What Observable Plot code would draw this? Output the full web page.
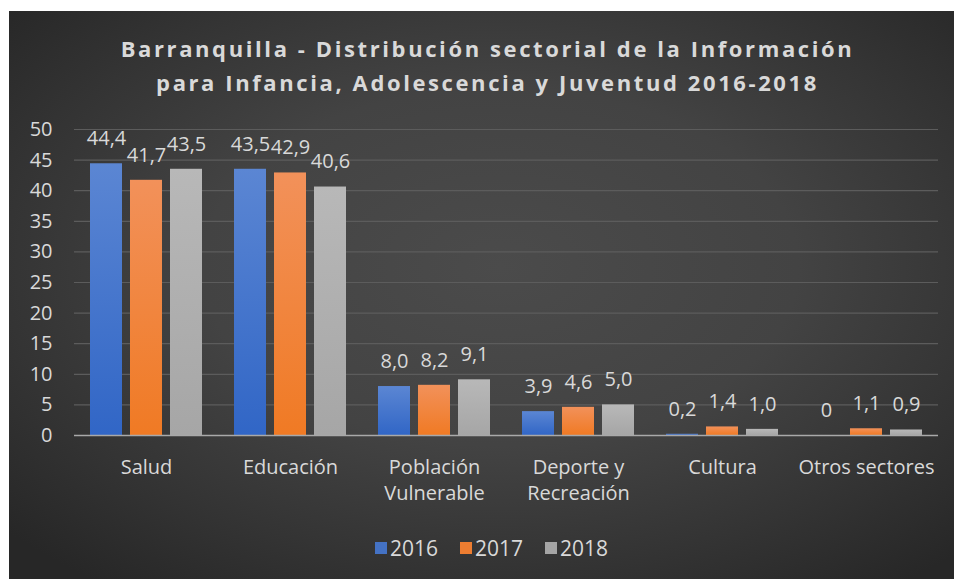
<!DOCTYPE html>
<html>
<head>
<meta charset="utf-8">
<script src="https://cdn.jsdelivr.net/npm/d3@7"></script>
<script src="https://cdn.jsdelivr.net/npm/@observablehq/plot@0.6"></script>
<style>
  html, body { margin: 0; padding: 0; background: #ffffff; }
  #panel {
    position: absolute; left: 9px; top: 11px; width: 945px; height: 568px;
    background: radial-gradient(ellipse 70% 70% at 52% 45%, #4b4b4b 0%, #434343 45%, #343434 75%, #272727 100%);
    overflow: hidden;
    font-family: "Open Sans", sans-serif;
  }
  #title {
    position: absolute; left: 0; top: 20px; width: 945px; box-sizing: border-box; padding-left: 12px;
    text-align: center; color: #d9d9d9; font-weight: bold; font-size: 22px; line-height: 34px;
    letter-spacing: 2.6px;
  }
  #chart { position: absolute; left: 0; top: 89px; }
  #legend {
    position: absolute; left: 0; top: 523px; width: 945px; box-sizing: border-box; padding-left: 20px;
    display: flex; justify-content: center; gap: 22px; color: #d9d9d9; font-size: 21px; line-height: 28px;
  }
  .item { display: flex; align-items: center; gap: 3px; }
  .sw { width: 12px; height: 12px; display: inline-block; }
</style>
</head>
<body>
<svg width="0" height="0" style="position:absolute">
  <defs>
    <linearGradient id="g2016" x1="0" y1="0" x2="0" y2="1">
      <stop offset="0" stop-color="#5b86d3"/><stop offset="1" stop-color="#3166c6"/>
    </linearGradient>
    <linearGradient id="g2017" x1="0" y1="0" x2="0" y2="1">
      <stop offset="0" stop-color="#f2915a"/><stop offset="1" stop-color="#f07a24"/>
    </linearGradient>
    <linearGradient id="g2018" x1="0" y1="0" x2="0" y2="1">
      <stop offset="0" stop-color="#b8b8b8"/><stop offset="1" stop-color="#a6a6a6"/>
    </linearGradient>
  </defs>
</svg>
<div id="panel">
  <div id="title">Barranquilla - Distribución sectorial de la Información<br>para Infancia, Adolescencia y Juventud 2016-2018</div>
  <div id="chart"></div>
  <div id="legend"></div>
</div>
<script>
const categories = ["Salud", "Educación", "Población\nVulnerable", "Deporte y\nRecreación", "Cultura", "Otros sectores"];
const years = ["2016", "2017", "2018"];
const v2016 = [44.4, 43.5, 8.0, 3.9, 0.2, 0];
const v2017 = [41.7, 42.9, 8.2, 4.6, 1.4, 1.1];
const v2018 = [43.5, 40.6, 9.1, 5.0, 1.0, 0.9];
const yTicks = [0, 5, 10, 15, 20, 25, 30, 35, 40, 45, 50];
const seriesColors = {"2016": "#4472c4", "2017": "#ed7d31", "2018": "#a5a5a5"};

const seriesValues = {"2016": v2016, "2017": v2017, "2018": v2018};
const rows = years.flatMap(y => categories.map((c, i) => ({cat: c, year: y, value: seriesValues[y][i]})));
const fmt = v => v === 0 ? "0" : v.toFixed(1).replace(".", ",");
const textColor = "#d9d9d9";

const barMarks = years.map(y => Plot.barY(rows.filter(r => r.year === y), {
  fx: "cat", x: "year", y: "value", fill: `url(#g${y})`
}));

const plot = Plot.plot({
  width: 945,
  height: 420,
  marginTop: 29,
  marginBottom: 85,
  marginLeft: 63,
  marginRight: 14,
  style: {background: "transparent", fontFamily: "Open Sans, sans-serif", color: textColor, overflow: "visible"},
  fx: {domain: categories, padding: 0, axis: null},
  x: {domain: years, paddingInner: 0.2, paddingOuter: 0.39, axis: null},
  y: {domain: [0, 50], axis: null},
  marks: [
    Plot.gridY(yTicks, {stroke: "#5c5c5c", strokeOpacity: 1, strokeWidth: 1.2}),
    ...barMarks,
    Plot.ruleY([0], {stroke: "#a9a9a9", strokeWidth: 1.5}),
    Plot.axisY({ticks: yTicks, tickSize: 0, tickPadding: 22, fontSize: 20, fill: textColor, facetAnchor: "left", anchor: "left", label: null}),
    Plot.text(rows, {fx: "cat", x: "year", y: "value", text: d => fmt(d.value), dy: -25, fontSize: 20, fill: textColor}),
    Plot.text(categories, {fx: d => d, text: d => d, frameAnchor: "bottom", lineAnchor: "top", dy: 20, lineHeight: 1.3, fontSize: 20, fill: textColor})
  ]
});
document.getElementById("chart").appendChild(plot);

const legend = document.getElementById("legend");
years.forEach(y => {
  const it = document.createElement("div");
  it.className = "item";
  const sw = document.createElement("span");
  sw.className = "sw";
  sw.style.background = seriesColors[y];
  const t = document.createElement("span");
  t.textContent = y;
  it.appendChild(sw); it.appendChild(t);
  legend.appendChild(it);
});
</script>
</body>
</html>
